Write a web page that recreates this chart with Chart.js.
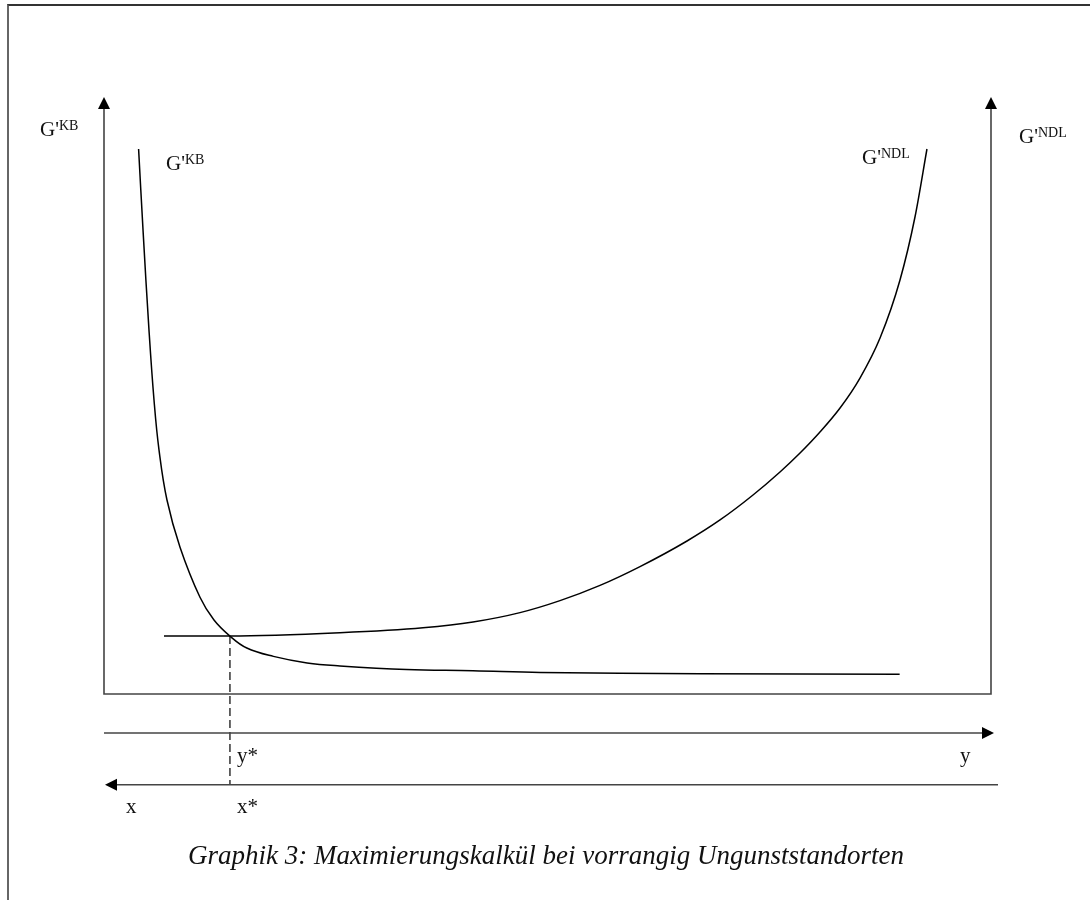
<!DOCTYPE html>
<html>
<head>
<meta charset="utf-8">
<script src="https://cdn.jsdelivr.net/npm/chart.js@4.4.1/dist/chart.umd.min.js"></script>
<style>
  html, body { margin: 0; padding: 0; background: #fff; }
  #wrap { position: relative; width: 1090px; height: 900px; overflow: hidden; }
  #frame { position: absolute; left: 7px; top: 4px; width: 1100px; height: 1000px;
           border-top: 2px solid #333; border-left: 2px solid #666; }
  #caption { position: absolute; left: 0; width: 1092px; top: 840px; text-align: center;
             font: italic 27px "Liberation Serif", "DejaVu Serif", serif; color: #111; }
  canvas { position: absolute; left: 0; top: 0; }
</style>
</head>
<body>
<div id="wrap">
  <div id="frame"></div>
  <canvas id="chart" width="1090" height="900"></canvas>
  <div id="caption">Graphik 3: Maximierungskalkül bei vorrangig Ungunststandorten</div>
</div>
<script>
// marginal benefit of the KB curve (falls steeply, then flattens)
const kbX = [3.9, 4.4, 5.07, 5.64, 6.2, 7.1, 8.57, 10.82, 12.4, 14.2, 16.1, 19.1, 22.9, 26.6, 34.1, 41.6, 49.2, 67.2, 89.7];
const kbY = [91.3, 77.7, 61.0, 49.2, 40.9, 32.5, 24.6, 16.2, 12.4, 9.7, 7.7, 6.3, 5.2, 4.7, 4.1, 3.9, 3.6, 3.4, 3.3];

// NDL curve (flat, then rising sharply)
const ndlX = [6.76, 14.2, 26.6, 35.96, 41.6, 46.9, 51.41, 55.92, 60.43, 65.73, 69.45, 73.17, 76.21, 78.47, 80.72, 82.98, 85.23, 87.49, 89.74, 91.43, 92.78];
const ndlY = [9.72, 9.72, 10.27, 11.1, 12.06, 13.63, 15.64, 18.19, 21.34, 25.63, 29.15, 33.33, 37.19, 40.37, 43.89, 47.91, 52.93, 59.63, 69.35, 79.9, 91.29];

// optimum and the level of the lower x-axis
const optimum = { x: 14.2, y: 9.7 };
const lowerAxisY = -15.2;

const toPoints = (xs, ys) => xs.map((x, i) => ({ x: x, y: ys[i] }));

function arrowHead(ctx, x, y, dir) {
  // dir: 'up', 'right', 'left'
  const L = 12, W = 6;
  ctx.beginPath();
  if (dir === 'up') {
    ctx.moveTo(x, y); ctx.lineTo(x - W, y + L); ctx.lineTo(x + W, y + L);
  } else if (dir === 'right') {
    ctx.moveTo(x, y); ctx.lineTo(x - L, y - W); ctx.lineTo(x - L, y + W);
  } else {
    ctx.moveTo(x, y); ctx.lineTo(x + L, y - W); ctx.lineTo(x + L, y + W);
  }
  ctx.closePath();
  ctx.fill();
}

function label(ctx, x, y, main, sup) {
  ctx.font = '21px "Liberation Serif", serif';
  ctx.fillText(main, x, y);
  if (sup) {
    const w = ctx.measureText(main).width;
    ctx.font = '14px "Liberation Serif", serif';
    ctx.fillText(sup, x + w, y - 6);
  }
}

const axesPlugin = {
  id: 'axes',
  afterDatasetsDraw(chart) {
    const ctx = chart.ctx;
    const a = chart.chartArea;
    const yScale = chart.scales.y;
    ctx.save();
    ctx.strokeStyle = '#444';
    ctx.fillStyle = '#000';
    ctx.lineWidth = 1.6;

    // box: left axis, bottom, right axis
    ctx.beginPath();
    ctx.moveTo(a.left, a.top + 6); ctx.lineTo(a.left, a.bottom);
    ctx.lineTo(a.right, a.bottom); ctx.lineTo(a.right, a.top + 6);
    ctx.stroke();
    arrowHead(ctx, a.left, a.top, 'up');
    arrowHead(ctx, a.right, a.top, 'up');

    // y axis (pointing right)
    const yLine = a.bottom + 39;
    ctx.beginPath();
    ctx.moveTo(a.left, yLine); ctx.lineTo(a.right, yLine);
    ctx.stroke();
    arrowHead(ctx, a.right + 3, yLine, 'right');

    // x axis (pointing left)
    const xLine = yScale.getPixelForValue(lowerAxisY);
    ctx.beginPath();
    ctx.moveTo(a.right + 7, xLine); ctx.lineTo(a.left + 6, xLine);
    ctx.stroke();
    arrowHead(ctx, a.left + 1, xLine, 'left');

    // labels
    ctx.fillStyle = '#111';
    ctx.textBaseline = 'alphabetic';
    label(ctx, 40, 136, "G'", 'KB');
    label(ctx, 166, 170, "G'", 'KB');
    label(ctx, 862, 164, "G'", 'NDL');
    label(ctx, 1019, 143, "G'", 'NDL');
    const xs = chart.scales.x.getPixelForValue(optimum.x);
    label(ctx, xs + 7, 762, 'y*');
    label(ctx, 960, 762, 'y');
    label(ctx, 126, 813, 'x');
    label(ctx, xs + 7, 813, 'x*');
    ctx.restore();
  }
};

new Chart(document.getElementById('chart').getContext('2d'), {
  type: 'scatter',
  data: {
    datasets: [
      {
        label: "G'KB",
        data: toPoints(kbX, kbY),
        showLine: true,
        borderColor: '#000',
        borderWidth: 1.5,
        pointRadius: 0,
        tension: 0.4
      },
      {
        label: "G'NDL",
        data: toPoints(ndlX, ndlY),
        showLine: true,
        borderColor: '#000',
        borderWidth: 1.5,
        pointRadius: 0,
        cubicInterpolationMode: 'monotone'
      },
      {
        label: 'optimum',
        data: [optimum, { x: optimum.x, y: lowerAxisY }],
        showLine: true,
        borderColor: '#000',
        borderWidth: 1.2,
        borderDash: [8, 4],
        pointRadius: 0,
        clip: false
      }
    ]
  },
  options: {
    responsive: false,
    animation: false,
    layout: { padding: { left: 104, right: 99, top: 97, bottom: 206 } },
    plugins: { legend: { display: false }, tooltip: { enabled: false } },
    scales: {
      x: { type: 'linear', min: 0, max: 100, display: false },
      y: { type: 'linear', min: 0, max: 100, display: false }
    }
  },
  plugins: [axesPlugin]
});
</script>
</body>
</html>
